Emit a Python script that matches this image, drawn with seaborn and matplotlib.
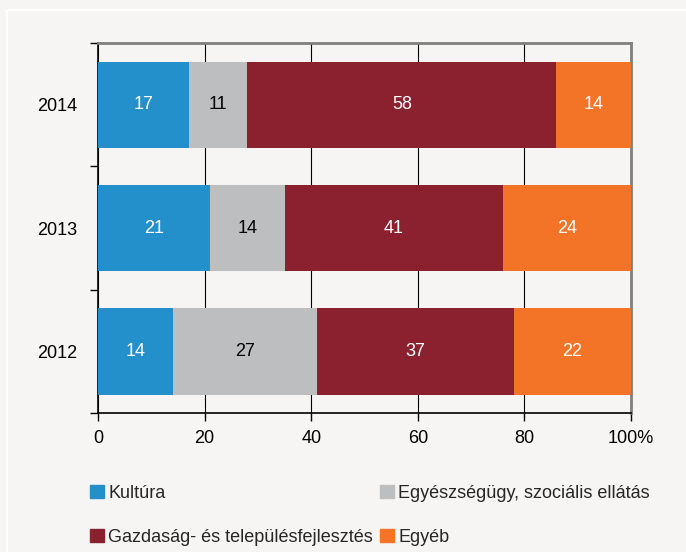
import numpy as np
import pandas as pd
import matplotlib
matplotlib.use('Agg')
import matplotlib.pyplot as plt
import matplotlib.patches as mpatches
import seaborn as sns

# ==================================================
# DATA
# ==================================================

years = ['2014', '2013', '2012']
categories = ['Kultúra', 'Egyészségügy, szociális ellátás',
              'Gazdaság- és településfejlesztés', 'Egyéb']
kultura = [17, 21, 14]
egeszseg = [11, 14, 27]
gazdasag = [58, 41, 37]
egyeb = [14, 24, 22]

colors = ['#2390cc', '#bcbec0', '#8b212e', '#f37427']
text_colors = ['white', 'black', 'white', 'white']

# ==================================================
# STYLE
# ==================================================

sns.set_theme(style='white')
plt.rcParams['font.family'] = ['Liberation Sans Narrow', 'DejaVu Sans Condensed',
                               'Liberation Sans', 'DejaVu Sans']
bg = '#f6f5f3'
fs = 13

df = pd.DataFrame({'year': years, 'k': kultura, 'e': egeszseg,
                   'g': gazdasag, 'x': egyeb})
series = ['k', 'e', 'g', 'x']
cum = df[series].cumsum(axis=1)

fig = plt.figure(figsize=(6.86, 5.52), dpi=100, facecolor=bg)
ax = fig.add_axes([0.1429, 0.2518, 0.777, 0.670])
ax.set_facecolor(bg)

# stacked bars: draw the cumulative totals from widest to narrowest
for i in reversed(range(len(series))):
    d = pd.DataFrame({'year': years, 'val': cum[series[i]]})
    sns.barplot(data=d, x='val', y='year', order=years, orient='h',
                color=colors[i], saturation=1, width=0.7, ax=ax,
                edgecolor='none', linewidth=0, zorder=3)

# value labels
for i, s in enumerate(series):
    for j, y in enumerate(years):
        mid = cum.loc[j, s] - df.loc[j, s] / 2
        ax.text(mid, j, str(df.loc[j, s]), ha='center', va='center',
                color=text_colors[i], fontsize=fs, zorder=4)

ax.set_xlim(0, 100)
ax.set_ylim(2.5, -0.5)
ax.set_xticks([0, 20, 40, 60, 80, 100])
ax.set_xticklabels(['0', '20', '40', '60', '80', '100%'], fontsize=fs)
ax.set_yticks([0, 1, 2])
ax.set_yticklabels(years, fontsize=fs)
ax.set_yticks([-0.5, 0.5, 1.5, 2.5], minor=True)
ax.set_xlabel('')
ax.set_ylabel('')

ax.xaxis.grid(True, color='black', linewidth=0.8, zorder=0)
ax.set_axisbelow(True)
ax.tick_params(axis='y', which='major', length=0, pad=15, colors='black')
ax.tick_params(axis='y', which='minor', left=True, length=6, width=1, color='black')
ax.tick_params(axis='x', which='major', bottom=True, length=6, width=1,
               color='black', pad=6, labelcolor='black')

for side in ['left', 'bottom']:
    ax.spines[side].set_color('black')
    ax.spines[side].set_linewidth(1.2)
for side in ['top', 'right']:
    ax.spines[side].set_color('#7f7f7f')
    ax.spines[side].set_linewidth(2)

# legend, two columns placed separately
handles = [mpatches.Patch(color=c, label=l) for c, l in zip(colors, categories)]
leg_kw = dict(loc='upper left', frameon=False, fontsize=fs, borderpad=0,
              borderaxespad=0, handlelength=0.75, handleheight=0.75,
              handletextpad=0.25, labelspacing=1.5)
fig.legend(handles=[handles[0], handles[2]],
           bbox_to_anchor=(90 / 686, 1 - 485 / 552), **leg_kw)
fig.legend(handles=[handles[1], handles[3]],
           bbox_to_anchor=(380 / 686, 1 - 485 / 552), **leg_kw)

# thin white frame around the figure
fig.patches.append(mpatches.Rectangle((7 / 686, -0.1), 1.2, 1 - 10 / 552 + 0.1,
                                      transform=fig.transFigure, fill=False,
                                      edgecolor='white', linewidth=1.5))

fig.savefig('out.png', dpi=100, facecolor=bg)
